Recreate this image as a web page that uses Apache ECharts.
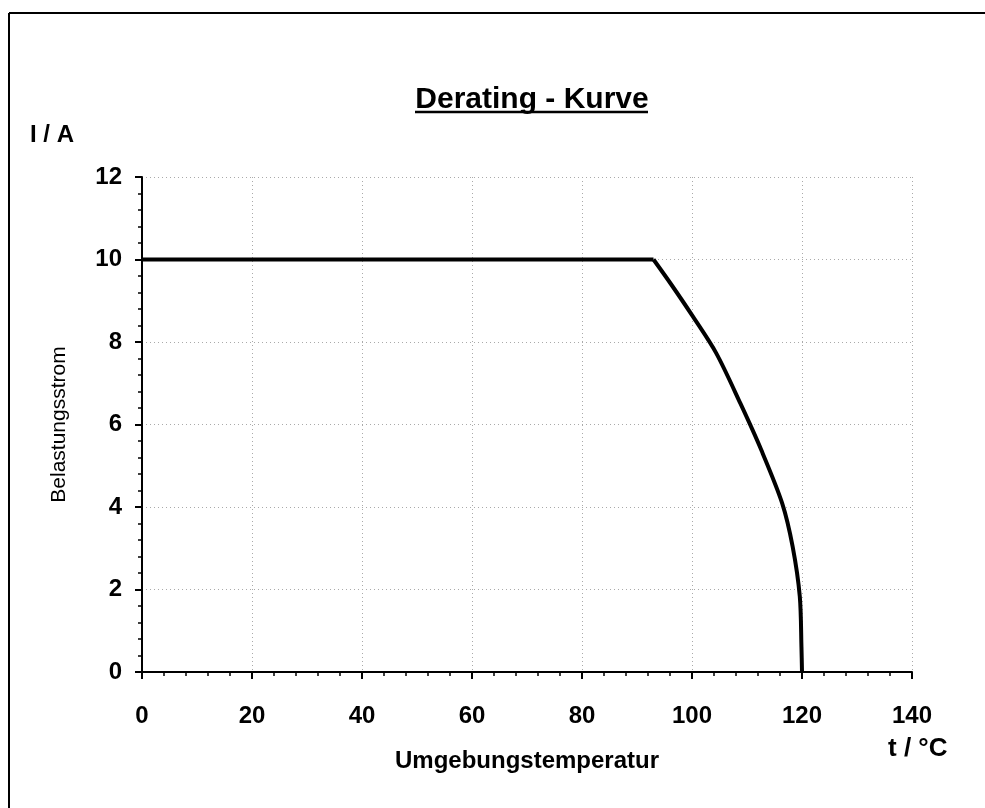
<!DOCTYPE html>
<html>
<head>
<meta charset="utf-8">
<script src="https://cdn.jsdelivr.net/npm/echarts@6/dist/echarts.min.js"></script>
<style>
html,body{margin:0;padding:0;background:#fff;}
#chart{width:985px;height:808px;}
</style>
</head>
<body>
<div id="chart"></div>
<script>
// Data
var temperature = [0, 93, 96.2, 100, 104.4, 108.8, 112.6, 116.4, 118.3, 119.6, 119.9, 120];
var current     = [10, 10, 9.4, 8.65, 7.73, 6.51, 5.38, 4.09, 3.04, 1.83, 0.61, 0];
var kneeIndex = 1; // end of the flat part, start of the derating bend
var xTicks = [0, 20, 40, 60, 80, 100, 120, 140];
var yTicks = [0, 2, 4, 6, 8, 10, 12];
var titleText = 'Derating - Kurve';
var yUnit = 'I / A';
var xUnit = 't / °C';
var yName = 'Belastungsstrom';
var xName = 'Umgebungstemperatur';

var points = temperature.map(function (t, i) { return [t, current[i]]; });
var flatPart = points.slice(0, kneeIndex + 1);
var bendPart = points.slice(kneeIndex);
var FONT = "'Liberation Sans', Arial, sans-serif";

var chart = echarts.init(document.getElementById('chart'), null, {renderer: 'canvas'});
chart.setOption({
  animation: false,
  backgroundColor: '#fff',
  title: {
    text: titleText,
    left: 527,
    textAlign: 'center',
    top: 80,
    textStyle: {fontFamily: FONT, fontSize: 30, fontWeight: 'bold', color: '#000'}
  },
  grid: {left: 142, right: 73, top: 177, bottom: 136, containLabel: false},
  xAxis: {
    type: 'value',
    min: xTicks[0], max: xTicks[xTicks.length - 1], interval: 20,
    name: xName,
    nameLocation: 'middle',
    nameGap: 77,
    nameTextStyle: {fontFamily: FONT, fontSize: 24, fontWeight: 'bold', color: '#000'},
    axisLine: {show: true, onZero: false, lineStyle: {color: '#000', width: 2}},
    axisTick: {show: true, length: 7, lineStyle: {color: '#000', width: 2}},
    minorTick: {show: true, splitNumber: 5, length: 4, lineStyle: {color: '#000', width: 1.5}},
    axisLabel: {margin: 32, fontFamily: FONT, fontSize: 24, fontWeight: 'bold', color: '#000'},
    splitLine: {show: true, lineStyle: {color: '#aaaaaa', width: 1, type: [1, 3]}}
  },
  yAxis: {
    type: 'value',
    min: yTicks[0], max: yTicks[yTicks.length - 1], interval: 2,
    name: yName,
    nameLocation: 'middle',
    nameRotate: 90,
    nameGap: 72,
    nameTextStyle: {fontFamily: FONT, fontSize: 21, color: '#000'},
    axisLine: {show: true, lineStyle: {color: '#000', width: 2}},
    axisTick: {show: true, length: 7, lineStyle: {color: '#000', width: 2}},
    minorTick: {show: true, splitNumber: 5, length: 4, lineStyle: {color: '#000', width: 1.5}},
    axisLabel: {margin: 20, fontFamily: FONT, fontSize: 24, fontWeight: 'bold', color: '#000'},
    splitLine: {show: true, lineStyle: {color: '#aaaaaa', width: 1, type: [1, 3]}}
  },
  series: [{
    type: 'line',
    data: flatPart,
    showSymbol: false,
    lineStyle: {color: '#000', width: 4},
    z: 5
  }, {
    type: 'line',
    data: bendPart,
    showSymbol: false,
    smooth: 0.3,
    lineStyle: {color: '#000', width: 4},
    z: 5
  }],
  graphic: [
    {type: 'line', shape: {x1: 9, y1: 13, x2: 985, y2: 13}, style: {stroke: '#000', lineWidth: 2}},
    {type: 'line', shape: {x1: 9, y1: 13, x2: 9, y2: 808}, style: {stroke: '#000', lineWidth: 2}},
    {type: 'line', shape: {x1: 415, y1: 112, x2: 648, y2: 112}, style: {stroke: '#000', lineWidth: 2.5}},
    {type: 'text', left: 30, top: 123, style: {text: yUnit, font: 'bold 24px ' + FONT, fill: '#000'}},
    {type: 'text', left: 888, top: 736, style: {text: xUnit, font: 'bold 26px ' + FONT, fill: '#000'}}
  ]
});
</script>
</body>
</html>
